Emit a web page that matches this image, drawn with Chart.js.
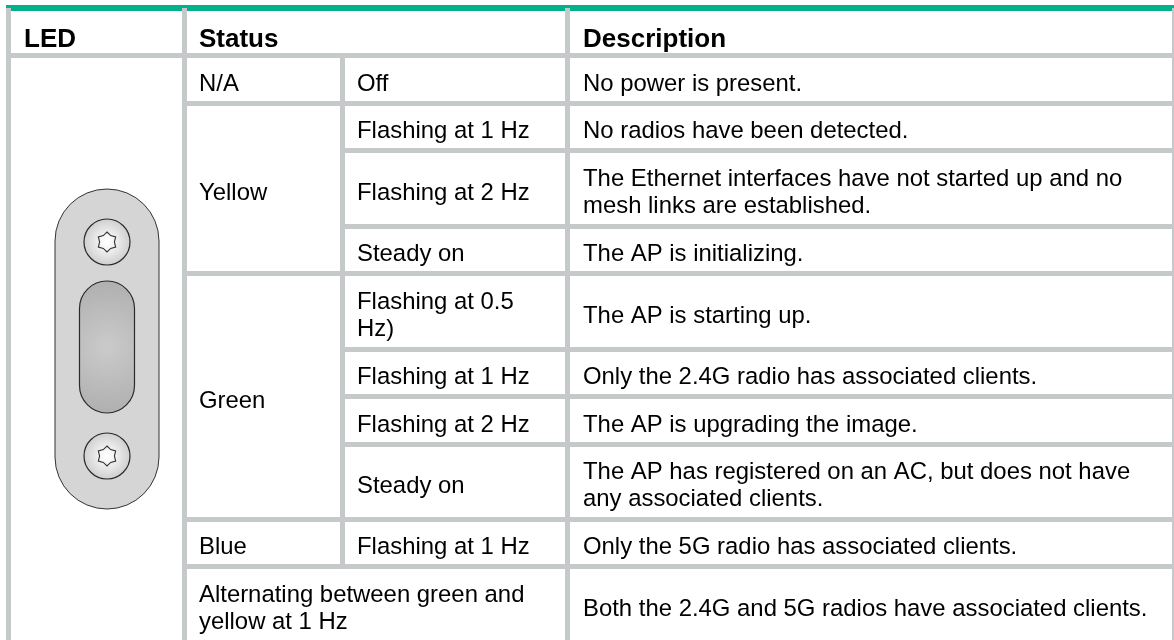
<!DOCTYPE html>
<html>
<head>
<meta charset="utf-8">
<title>AP LED status table</title>
<style>
  html, body { margin: 0; padding: 0; background: #fff; overflow: hidden; }
  canvas { display: block; }
</style>
<script src="https://cdn.jsdelivr.net/npm/chart.js@4"></script>
</head>
<body>
<canvas id="ledTable" width="1174" height="640"></canvas>
<script>
// table content
const headers = ['LED', 'Status', 'Description'];
const colours = ['N/A', 'Yellow', 'Green', 'Blue', ['Alternating between green and', 'yellow at 1 Hz']];
const modes = ['Off', 'Flashing at 1 Hz', 'Flashing at 2 Hz', 'Steady on', ['Flashing at 0.5', 'Hz)'],
    'Flashing at 1 Hz', 'Flashing at 2 Hz', 'Steady on', 'Flashing at 1 Hz'];
const descriptions = [
    'No power is present.',
    'No radios have been detected.',
    ['The Ethernet interfaces have not started up and no', 'mesh links are established.'],
    'The AP is initializing.',
    'The AP is starting up.',
    'Only the 2.4G radio has associated clients.',
    'The AP is upgrading the image.',
    ['The AP has registered on an AC, but does not have', 'any associated clients.'],
    'Only the 5G radio has associated clients.',
    'Both the 2.4G and 5G radios have associated clients.'
];

// first baseline of each cell
const headerBaseline = 47;
const colourBaselines = [91, 200, 408, 554, 602];
const modeBaselines = [91, 138, 200, 261, 309, 384, 432, 493, 554];
const descBaselines = [91, 138, 186, 261, 323, 384, 432, 479, 554, 616];
const lineGap = 27;

// text columns
const headerX = [24, 199, 583];
const colourX = 199;
const modeX = 357;
const descX = 583;

// rules of the table
const tableRight = 1174;
const tableBottom = 640;
const fullRuleY = [55.5, 103.5, 273.5, 519.5, 566.5];
const innerRuleY = [150.5, 226.5, 349.5, 396.5, 444.5];
const leftRuleX = 8.5;
const ledRuleX = 184.5;
const modeRuleX = 342.5;
const descRuleX = 567.5;

// LED drawing
const ledX = 107;
const plateTop = 189, plateBottom = 509, plateHalf = 52;
const windowTop = 281, windowBottom = 413, windowHalf = 27.5;
const screwY = [242, 456];
const screwRadius = 23;

const RULE = '#c5c9ca';
const BAR = '#01b18b';

function rule(x1, y1, x2, y2, color, width) {
    return {
        data: [{ x: x1, y: y1 }, { x: x2, y: y2 }],
        showLine: true,
        borderColor: color || RULE,
        borderWidth: width || 5,
        borderCapStyle: 'butt',
        pointRadius: 0,
        clip: false
    };
}

const datasets = [
    rule(leftRuleX, 8, leftRuleX, tableBottom),
    rule(ledRuleX, 8, ledRuleX, tableBottom),
    rule(modeRuleX, 58, modeRuleX, 569),
    rule(descRuleX, 8, descRuleX, tableBottom),
    rule(tableRight, 8, tableRight, tableBottom, RULE, 4)
];
fullRuleY.forEach((y, i) => datasets.push(rule(i === 0 ? 6 : ledRuleX, y, tableRight, y)));
innerRuleY.forEach(y => datasets.push(rule(modeRuleX, y, tableRight, y)));
datasets.push(rule(6, 8, tableRight, 8, BAR, 6));

function drawCell(ctx, chart, text, x, baseline) {
    const lines = Array.isArray(text) ? text : [text];
    lines.forEach((line, i) => {
        ctx.fillText(line, chart.scales.x.getPixelForValue(x), chart.scales.y.getPixelForValue(baseline + i * lineGap));
    });
}

function pill(ctx, left, top, right, bottom, radius) {
    ctx.beginPath();
    ctx.roundRect(left, top, right - left, bottom - top, radius);
}

function drawScrew(ctx, cx, cy) {
    const g = ctx.createRadialGradient(cx, cy, 2, cx, cy, screwRadius);
    g.addColorStop(0, '#ffffff');
    g.addColorStop(1, '#cfcfcf');
    ctx.beginPath();
    ctx.arc(cx, cy, screwRadius, 0, Math.PI * 2);
    ctx.fillStyle = g;
    ctx.fill();
    ctx.strokeStyle = '#2a2a2a';
    ctx.lineWidth = 1.2;
    ctx.stroke();

    // hexalobe socket
    ctx.beginPath();
    for (let i = 0; i < 12; i++) {
        const r = i % 2 === 0 ? 10 : 7.4;
        const a = -Math.PI / 2 + i * Math.PI / 6;
        const px = cx + r * Math.cos(a);
        const py = cy + r * Math.sin(a);
        if (i === 0) ctx.moveTo(px, py); else ctx.lineTo(px, py);
    }
    ctx.closePath();
    const s = ctx.createRadialGradient(cx, cy, 1, cx, cy, 10);
    s.addColorStop(0, '#ffffff');
    s.addColorStop(1, '#f0f0f0');
    ctx.fillStyle = s;
    ctx.fill();
    ctx.strokeStyle = '#333333';
    ctx.lineWidth = 1.1;
    ctx.stroke();
}

const tablePlugin = {
    id: 'tablePlugin',
    afterDatasetsDraw(chart) {
        const ctx = chart.ctx;
        const px = v => chart.scales.x.getPixelForValue(v);
        const py = v => chart.scales.y.getPixelForValue(v);

        ctx.save();
        // LED plate
        pill(ctx, px(ledX - plateHalf), py(plateTop), px(ledX + plateHalf), py(plateBottom), plateHalf);
        ctx.fillStyle = '#d5d5d5';
        ctx.fill();
        ctx.strokeStyle = '#333333';
        ctx.lineWidth = 1;
        ctx.stroke();

        // light window
        const wy = (windowTop + windowBottom) / 2;
        const glow = ctx.createRadialGradient(px(ledX), py(wy), 4, px(ledX), py(wy), 70);
        glow.addColorStop(0, '#c9c9c9');
        glow.addColorStop(1, '#aeaeae');
        pill(ctx, px(ledX - windowHalf), py(windowTop), px(ledX + windowHalf), py(windowBottom), windowHalf);
        ctx.fillStyle = glow;
        ctx.fill();
        ctx.strokeStyle = '#2a2a2a';
        ctx.lineWidth = 1.2;
        ctx.stroke();

        screwY.forEach(y => drawScrew(ctx, px(ledX), py(y)));

        // text
        ctx.fillStyle = '#000';
        ctx.textAlign = 'left';
        ctx.textBaseline = 'alphabetic';
        ctx.font = 'bold 26px "Liberation Sans", Arial, sans-serif';
        headers.forEach((h, i) => drawCell(ctx, chart, h, headerX[i], headerBaseline));
        ctx.font = '23.9px "Liberation Sans", Arial, sans-serif';
        colours.forEach((t, i) => drawCell(ctx, chart, t, colourX, colourBaselines[i]));
        modes.forEach((t, i) => drawCell(ctx, chart, t, modeX, modeBaselines[i]));
        descriptions.forEach((t, i) => drawCell(ctx, chart, t, descX, descBaselines[i]));
        ctx.restore();
    }
};

new Chart(document.getElementById('ledTable').getContext('2d'), {
    type: 'scatter',
    data: { datasets: datasets },
    options: {
        responsive: false,
        animation: false,
        layout: { padding: 0 },
        plugins: { legend: { display: false }, tooltip: { enabled: false } },
        scales: {
            x: { type: 'linear', min: 0, max: tableRight, display: false },
            y: { type: 'linear', min: 0, max: tableBottom, reverse: true, display: false }
        }
    },
    plugins: [tablePlugin]
});
</script>
</body>
</html>
